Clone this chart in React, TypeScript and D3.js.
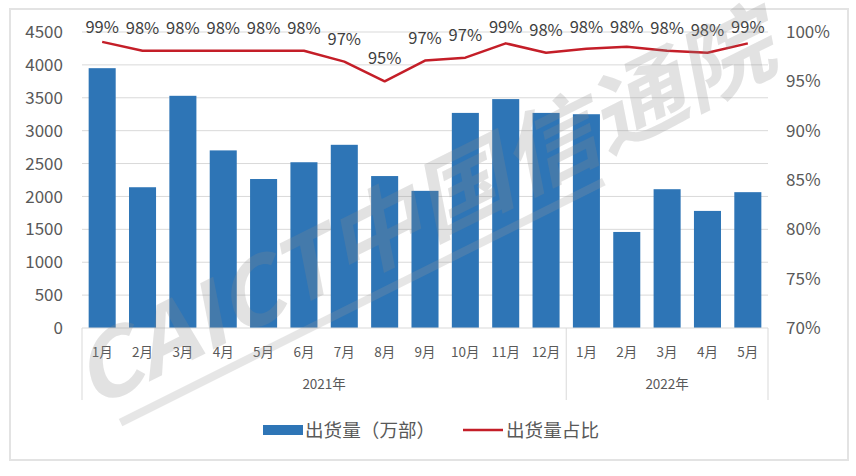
import * as d3 from 'd3';

const months = ['1月', '2月', '3月', '4月', '5月', '6月', '7月', '8月', '9月', '10月', '11月', '12月', '1月', '2月', '3月', '4月', '5月'];
const years = ['2021年', '2022年'];
const monthsPerYear = [12, 5];
const shipments = [3950, 2140, 3530, 2700, 2265, 2520, 2785, 2310, 2085, 3270, 3480, 3270, 3250, 1460, 2110, 1780, 2065];
const shareValues = [99.0, 98.1, 98.1, 98.1, 98.1, 98.1, 97.0, 95.0, 97.1, 97.4, 98.85, 97.9, 98.3, 98.5, 98.1, 97.9, 98.85];
const shareLabels = ['99%', '98%', '98%', '98%', '98%', '98%', '97%', '95%', '97%', '97%', '99%', '98%', '98%', '98%', '98%', '98%', '99%'];
const leftTicks = [0, 500, 1000, 1500, 2000, 2500, 3000, 3500, 4000, 4500];
const rightTicks = [70, 75, 80, 85, 90, 95, 100];

const WIDTH = 856;
const HEIGHT = 476;
const plot = { left: 82, right: 768, top: 32, bottom: 328 };
const FONT = '"Noto Sans CJK SC", "Noto Sans", sans-serif';
const BAR_COLOR = '#2E75B6';
const LINE_COLOR = '#C41E28';
const TEXT_COLOR = '#595959';
const GRID_COLOR = '#D9D9D9';

export default function App() {
  const keys = months.map((_, i) => String(i));
  const x = d3.scaleBand<string>().domain(keys).range([plot.left, plot.right]).paddingInner(0.33).paddingOuter(0.165);
  const xStep = d3.scaleBand<string>().domain(keys).range([plot.left, plot.right]);
  const yLeft = d3.scaleLinear().domain([0, 4500]).range([plot.bottom, plot.top]);
  const yRight = d3.scaleLinear().domain([70, 100]).range([plot.bottom, plot.top]);

  const center = (i: number) => (xStep(String(i)) ?? 0) + xStep.bandwidth() / 2;
  const line = d3
    .line<number>()
    .x((_, i) => center(i))
    .y((v) => yRight(v));

  // year group boundaries
  let acc = 0;
  const groups = years.map((label, g) => {
    const start = acc;
    acc += monthsPerYear[g];
    const x0 = xStep(String(start)) ?? 0;
    const x1 = (xStep(String(acc - 1)) ?? 0) + xStep.bandwidth();
    return { label, x0, x1 };
  });

  return (
    <svg width={WIDTH} height={HEIGHT} style={{ position: 'absolute', left: 0, top: 0, background: '#fff' }} fontFamily={FONT}>
      <rect x={10} y={9} width={838} height={451} fill="#fff" stroke="#E3E3E3" strokeWidth={2} />

      {leftTicks.slice(1).map((t) => (
        <line key={t} x1={plot.left} x2={plot.right} y1={yLeft(t)} y2={yLeft(t)} stroke={GRID_COLOR} strokeWidth={1} />
      ))}

      {leftTicks.map((t) => (
        <text key={t} x={63} y={yLeft(t)} dy="0.36em" textAnchor="end" fontSize={17} fill={TEXT_COLOR}>
          {t}
        </text>
      ))}
      {rightTicks.map((t) => (
        <text key={t} x={786} y={yRight(t)} dy="0.36em" textAnchor="start" fontSize={17} fill={TEXT_COLOR}>
          {t}%
        </text>
      ))}

      {shipments.map((v, i) => (
        <rect key={i} x={x(String(i))} y={yLeft(v)} width={x.bandwidth()} height={yLeft(0) - yLeft(v)} fill={BAR_COLOR} />
      ))}

      <line x1={plot.left} x2={plot.right} y1={plot.bottom} y2={plot.bottom} stroke={GRID_COLOR} strokeWidth={1} />
      {[plot.left, groups[0].x1, plot.right].map((gx, i) => (
        <line key={i} x1={gx} x2={gx} y1={plot.bottom} y2={400} stroke={GRID_COLOR} strokeWidth={1} />
      ))}

      {months.map((m, i) => (
        <text key={i} x={center(i)} y={352} dy="0.36em" textAnchor="middle" fontSize={13.5} fill={TEXT_COLOR}>
          {m}
        </text>
      ))}
      {groups.map((g) => (
        <text key={g.label} x={(g.x0 + g.x1) / 2} y={384} dy="0.36em" textAnchor="middle" fontSize={13.5} fill={TEXT_COLOR}>
          {g.label}
        </text>
      ))}

      <path d={line(shareValues) ?? ''} fill="none" stroke={LINE_COLOR} strokeWidth={2.5} strokeLinejoin="round" />
      {shareValues.map((v, i) => (
        <text
          key={i}
          x={center(i)}
          y={Math.max(yRight(v) - 23, 27)}
          dy="0.36em"
          textAnchor="middle"
          fontSize={16.5}
          fill="#404040"
        >
          {shareLabels[i]}
        </text>
      ))}

      <g opacity={0.24} transform="translate(92,410) rotate(-26.5)">
        <text x={0} y={0} fontSize={88} fontWeight="bold" fontStyle="italic" fill="#8A8A8A" textLength={770} lengthAdjust="spacingAndGlyphs">
          CAICT中国信通院
        </text>
        <line x1={20} x2={560} y1={24} y2={24} stroke="#9A9A9A" strokeWidth={8} />
      </g>

      <rect x={263} y={425} width={40} height={10} fill={BAR_COLOR} />
      <text x={305} y={430} dy="0.36em" fontSize={18.6} fill={TEXT_COLOR}>
        出货量（万部）
      </text>
      <line x1={463} x2={503} y1={430} y2={430} stroke={LINE_COLOR} strokeWidth={2.5} />
      <text x={506} y={430} dy="0.36em" fontSize={18.6} fill={TEXT_COLOR}>
        出货量占比
      </text>
    </svg>
  );
}
